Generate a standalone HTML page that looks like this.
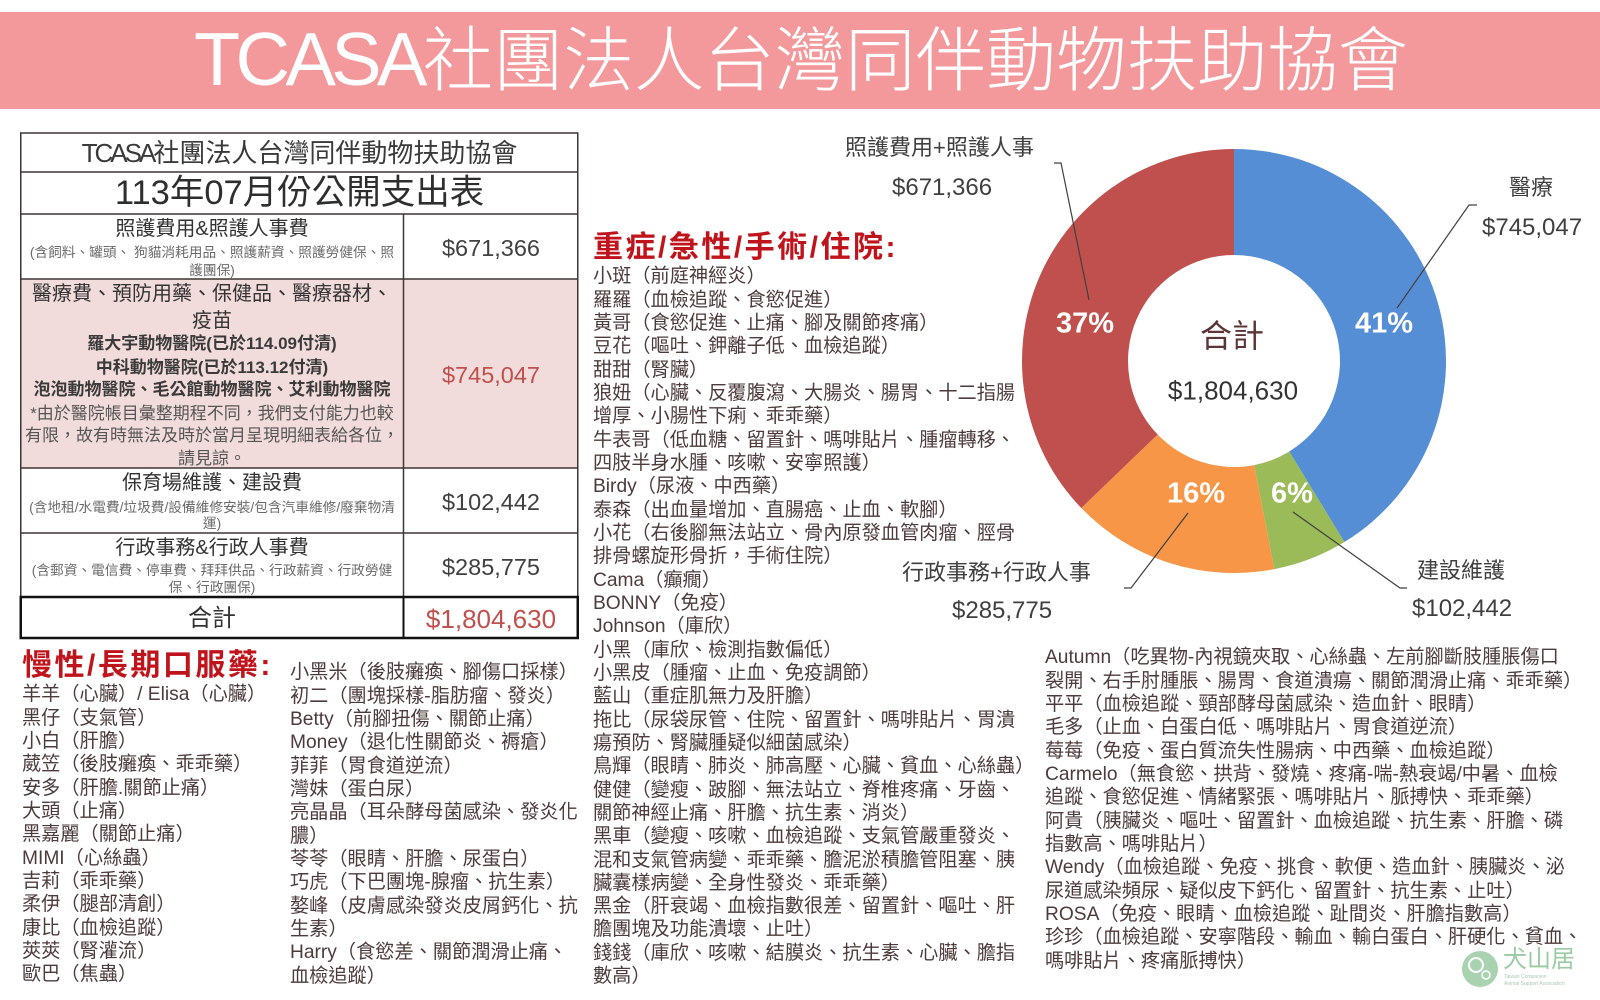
<!DOCTYPE html>
<html><head><meta charset="utf-8">
<style>
*{margin:0;padding:0;box-sizing:border-box}
html,body{width:1600px;height:1000px;overflow:hidden;background:#fff}
body{position:relative;font-family:"Liberation Sans","Noto Sans CJK TC",sans-serif;color:#404040}
.a{position:absolute;white-space:nowrap;line-height:1}
.c1{position:absolute;left:21px;width:382px;text-align:center;white-space:nowrap;line-height:1}
.c2{position:absolute;left:404px;width:174px;text-align:center;white-space:nowrap;line-height:1;font-size:23.5px;color:#404040}
.cw{position:absolute;left:21px;width:557px;text-align:center;white-space:nowrap;line-height:1}
.tt{font-size:20px;color:#333}
.sb{font-size:13.7px;color:#6a6a6a}
.hb{font-size:17px;font-weight:bold;color:#3a3a3a}
.hn{font-size:17px;color:#555}
.list{position:absolute;font-size:19.2px;line-height:23.33px;color:#4d3b3b;white-space:nowrap}
.hd{position:absolute;font-size:30px;font-weight:bold;color:#C0141C;letter-spacing:2.5px;line-height:1;white-space:nowrap}
.lb{position:absolute;white-space:nowrap;line-height:1;font-size:22px;color:#3f3f3f}
.lv{position:absolute;white-space:nowrap;line-height:1;font-size:24px;color:#3f3f3f}
</style></head>
<body>
<svg width="1600" height="1000" style="position:absolute;left:0;top:0">
<rect x="0" y="12" width="1600" height="97" fill="#F4999B"/>
<rect x="21" y="279" width="557" height="189" fill="#F2DCDB"/>
<g stroke="#3d3535" stroke-width="1.5" fill="none">
<rect x="20.75" y="133" width="557" height="505"/>
<line x1="20.75" y1="172" x2="577.75" y2="172"/>
<line x1="20.75" y1="214" x2="577.75" y2="214"/>
<line x1="20.75" y1="279" x2="577.75" y2="279"/>
<line x1="20.75" y1="468" x2="577.75" y2="468"/>
<line x1="20.75" y1="533" x2="577.75" y2="533"/>
<line x1="403.5" y1="214" x2="403.5" y2="597"/>
</g>
<rect x="20.75" y="597" width="557" height="41" stroke="#111" stroke-width="2.5" fill="none"/>
<line x1="403.5" y1="597" x2="403.5" y2="638" stroke="#111" stroke-width="2"/>

<path d="M1234,149 A212,212 0 0 1 1344.36,542.01 L1289.18,451.50 A106,106 0 0 0 1234,255 Z" fill="#558ED5"/>
<path d="M1344.36,542.01 A212,212 0 0 1 1274.23,569.15 L1254.11,465.07 A106,106 0 0 0 1289.18,451.50 Z" fill="#9BBB59"/>
<path d="M1274.23,569.15 A212,212 0 0 1 1081.30,508.06 L1157.65,434.53 A106,106 0 0 0 1254.11,465.07 Z" fill="#F79646"/>
<path d="M1081.30,508.06 A212,212 0 0 1 1234,149 L1234,255 A106,106 0 0 0 1157.65,434.53 Z" fill="#C0504D"/>

<g stroke="#404040" stroke-width="1.2" fill="none">
<polyline points="1089,300 1061,163 1054,163"/>
<polyline points="1397,308 1469,205 1477,205"/>
<polyline points="1293,512 1400,588 1407,588"/>
<polyline points="1188,513 1131,588 1124,588"/>
</g>
<g font-family="Liberation Sans, sans-serif" font-weight="bold" font-size="29" fill="#fff" text-anchor="middle">
<text x="1085" y="332.4">37%</text>
<text x="1384" y="332.4">41%</text>
<text x="1196" y="502.4">16%</text>
<text x="1292" y="502.4">6%</text>
</g>
<text x="1232" y="347" text-anchor="middle" font-family="Liberation Sans, Noto Sans CJK TC, sans-serif" font-size="32" fill="#5b3535">合計</text>
<text x="1233" y="399.4" text-anchor="middle" font-family="Liberation Sans, sans-serif" font-size="26" fill="#333">$1,804,630</text>

<circle cx="1480" cy="969" r="18" fill="#A9D3B0"/>
<circle cx="1476" cy="965" r="7" fill="none" stroke="#fff" stroke-width="2"/>
<circle cx="1486" cy="975" r="4" fill="none" stroke="#fff" stroke-width="1.5"/>
</svg>

<div class="a" style="left:194px;top:22px;font-size:75.5px;color:#fff;font-weight:300"><span style="letter-spacing:-4.6px">TCASA</span><span style="font-size:70.4px">社團法人台灣同伴動物扶助協會</span></div>

<div class="cw" style="top:139.8px;font-size:26px;color:#3a3a3a"><span style="letter-spacing:-3px">TCASA</span>社團法人台灣同伴動物扶助協會</div>
<div class="cw" style="top:175.8px;font-size:34.5px;color:#2e2e2e">113年07月份公開支出表</div>

<div class="c1 tt" style="top:218.6px">照護費用&amp;照護人事費</div>
<div class="c1 sb" style="top:245.6px">(含飼料、罐頭、 狗貓消耗用品、照護薪資、照護勞健保、照</div>
<div class="c1 sb" style="top:263.6px">護團保)</div>
<div class="c2" style="top:237px">$671,366</div>

<div class="c1 tt" style="top:283.6px">醫療費、預防用藥、保健品、醫療器材、</div>
<div class="c1 tt" style="top:310.6px">疫苗</div>
<div class="c1 hb" style="top:335px">羅大宇動物醫院(已於114.09付清)</div>
<div class="c1 hb" style="top:359px">中科動物醫院(已於113.12付清)</div>
<div class="c1 hb" style="top:381px">泡泡動物醫院、毛公館動物醫院、艾利動物醫院</div>
<div class="c1 hn" style="top:405px">*由於醫院帳目彙整期程不同，我們支付能力也較</div>
<div class="c1 hn" style="top:427px">有限，故有時無法及時於當月呈現明細表給各位，</div>
<div class="c1 hn" style="top:450px">請見諒。</div>
<div class="c2" style="top:364px;color:#C0504D">$745,047</div>

<div class="c1 tt" style="top:472.6px">保育場維護、建設費</div>
<div class="c1 sb" style="top:500.6px">(含地租/水電費/垃圾費/設備維修安裝/包含汽車維修/廢棄物清</div>
<div class="c1 sb" style="top:516.6px">運)</div>
<div class="c2" style="top:491px">$102,442</div>

<div class="c1 tt" style="top:537.6px">行政事務&amp;行政人事費</div>
<div class="c1 sb" style="top:563.6px">(含郵資、電信費、停車費、拜拜供品、行政薪資、行政勞健</div>
<div class="c1 sb" style="top:580.6px">保、行政團保)</div>
<div class="c2" style="top:556px">$285,775</div>

<div class="c1" style="top:606.7px;font-size:24px;color:#333">合計</div>
<div class="c2" style="top:605.8px;font-size:26px;color:#C0504D">$1,804,630</div>

<div class="lb" style="left:845px;top:136.7px">照護費用+照護人事</div>
<div class="lv" style="left:892px;top:175.7px">$671,366</div>
<div class="lb" style="left:1509px;top:176.7px">醫療</div>
<div class="lv" style="left:1482px;top:215.7px">$745,047</div>
<div class="lb" style="left:902px;top:561.7px">行政事務+行政人事</div>
<div class="lv" style="left:952px;top:598.7px">$285,775</div>
<div class="lb" style="left:1417px;top:559.7px">建設維護</div>
<div class="lv" style="left:1412px;top:596.7px">$102,442</div>

<div class="hd" style="left:593px;top:232.9px">重症/急性/手術/住院:</div>
<div class="hd" style="left:22px;top:650.9px">慢性/長期口服藥:</div>

<div class="list" style="left:22px;top:683.3px">
<div>羊羊（心臟）/ Elisa（心臟）</div>
<div>黑仔（支氣管）</div>
<div>小白（肝膽）</div>
<div>葳笠（後肢癱瘓、乖乖藥）</div>
<div>安多（肝膽.關節止痛）</div>
<div>大頭（止痛）</div>
<div>黑嘉麗（關節止痛）</div>
<div>MIMI（心絲蟲）</div>
<div>吉莉（乖乖藥）</div>
<div>柔伊（腿部清創）</div>
<div>康比（血檢追蹤）</div>
<div>莢莢（腎灌流）</div>
<div>歐巴（焦蟲）</div>
</div>

<div class="list" style="left:290px;top:661.3px">
<div>小黑米（後肢癱瘓、腳傷口採樣）</div>
<div>初二（團塊採樣-脂肪瘤、發炎）</div>
<div>Betty（前腳扭傷、關節止痛）</div>
<div>Money（退化性關節炎、褥瘡）</div>
<div>菲菲（胃食道逆流）</div>
<div>灣妹（蛋白尿）</div>
<div>亮晶晶（耳朵酵母菌感染、發炎化</div>
<div>膿）</div>
<div>苓苓（眼睛、肝膽、尿蛋白）</div>
<div>巧虎（下巴團塊-腺瘤、抗生素）</div>
<div>嫯峰（皮膚感染發炎皮屑鈣化、抗</div>
<div>生素）</div>
<div>Harry（食慾差、關節潤滑止痛、</div>
<div>血檢追蹤）</div>
</div>

<div class="list" style="left:593px;top:265.3px">
<div>小斑（前庭神經炎）</div>
<div>羅羅（血檢追蹤、食慾促進）</div>
<div>黃哥（食慾促進、止痛、腳及關節疼痛）</div>
<div>豆花（嘔吐、鉀離子低、血檢追蹤）</div>
<div>甜甜（腎臟）</div>
<div>狼妞（心臟、反覆腹瀉、大腸炎、腸胃、十二指腸</div>
<div>增厚、小腸性下痢、乖乖藥）</div>
<div>牛表哥（低血糖、留置針、嗎啡貼片、腫瘤轉移、</div>
<div>四肢半身水腫、咳嗽、安寧照護）</div>
<div>Birdy（尿液、中西藥）</div>
<div>泰森（出血量增加、直腸癌、止血、軟腳）</div>
<div>小花（右後腳無法站立、骨內原發血管肉瘤、脛骨</div>
<div>排骨螺旋形骨折，手術住院）</div>
<div>Cama（癲癇）</div>
<div>BONNY（免疫）</div>
<div>Johnson（庫欣）</div>
<div>小黑（庫欣、檢測指數偏低）</div>
<div>小黑皮（腫瘤、止血、免疫調節）</div>
<div>藍山（重症肌無力及肝膽）</div>
<div>拖比（尿袋尿管、住院、留置針、嗎啡貼片、胃潰</div>
<div>瘍預防、腎臟腫疑似細菌感染）</div>
<div>鳥輝（眼睛、肺炎、肺高壓、心臟、貧血、心絲蟲）</div>
<div>健健（變瘦、跛腳、無法站立、脊椎疼痛、牙齒、</div>
<div>關節神經止痛、肝膽、抗生素、消炎）</div>
<div>黑車（變瘦、咳嗽、血檢追蹤、支氣管嚴重發炎、</div>
<div>混和支氣管病變、乖乖藥、膽泥淤積膽管阻塞、胰</div>
<div>臟囊樣病變、全身性發炎、乖乖藥）</div>
<div>黑金（肝衰竭、血檢指數很差、留置針、嘔吐、肝</div>
<div>膽團塊及功能潰壞、止吐）</div>
<div>錢錢（庫欣、咳嗽、結膜炎、抗生素、心臟、膽指</div>
<div>數高）</div>
</div>

<div class="list" style="left:1045px;top:646.3px">
<div>Autumn（吃異物-內視鏡夾取、心絲蟲、左前腳斷肢腫脹傷口</div>
<div>裂開、右手肘腫脹、腸胃、食道潰瘍、關節潤滑止痛、乖乖藥）</div>
<div>平平（血檢追蹤、頸部酵母菌感染、造血針、眼睛）</div>
<div>毛多（止血、白蛋白低、嗎啡貼片、胃食道逆流）</div>
<div>莓莓（免疫、蛋白質流失性腸病、中西藥、血檢追蹤）</div>
<div>Carmelo（無食慾、拱背、發燒、疼痛-喘-熱衰竭/中暑、血檢</div>
<div>追蹤、食慾促進、情緒緊張、嗎啡貼片、脈搏快、乖乖藥）</div>
<div>阿貴（胰臟炎、嘔吐、留置針、血檢追蹤、抗生素、肝膽、磷</div>
<div>指數高、嗎啡貼片）</div>
<div>Wendy（血檢追蹤、免疫、挑食、軟便、造血針、胰臟炎、泌</div>
<div>尿道感染頻尿、疑似皮下鈣化、留置針、抗生素、止吐）</div>
<div>ROSA（免疫、眼睛、血檢追蹤、趾間炎、肝膽指數高）</div>
<div>珍珍（血檢追蹤、安寧階段、輸血、輸白蛋白、肝硬化、貧血、</div>
<div>嗎啡貼片、疼痛脈搏快）</div>
</div>

<div class="a" style="left:1503px;top:948px;font-size:24px;color:#9ACBA2">犬山居</div>
<div class="a" style="left:1504px;top:975px;font-size:5px;color:#aac9b0">Taiwan Companion</div>
<div class="a" style="left:1504px;top:982px;font-size:5px;color:#aac9b0">Animal Support Association</div>
</body></html>
